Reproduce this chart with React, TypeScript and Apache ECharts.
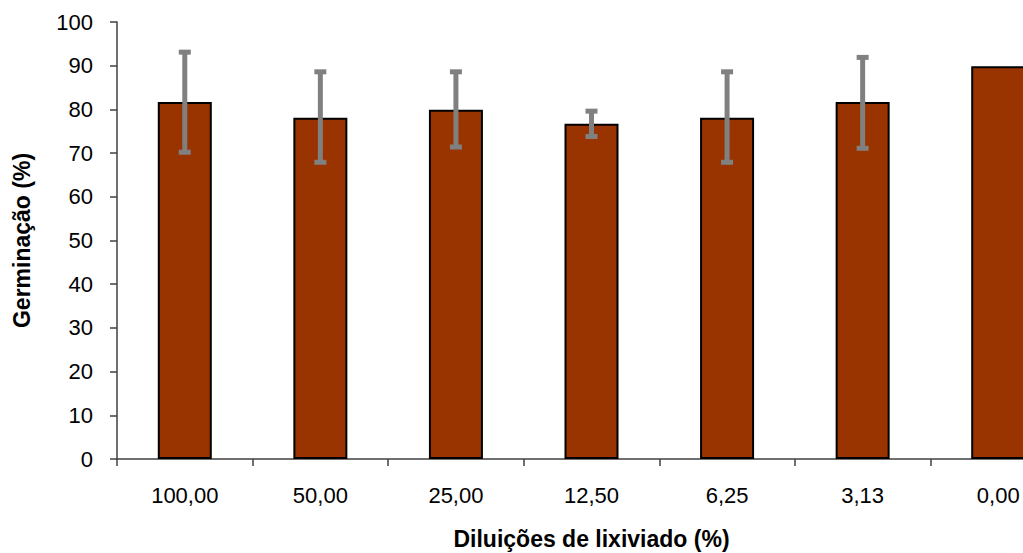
import React, { useEffect, useRef } from "react";
import * as echarts from "echarts";

const categories = ["100,00", "50,00", "25,00", "12,50", "6,25", "3,13", "0,00"];
const germination = [81.7, 78.1, 79.9, 76.7, 78.1, 81.7, 89.9];
const errLow = [70.2, 67.9, 71.4, 73.8, 67.9, 71.1, null];
const errHigh = [93.1, 88.6, 88.6, 79.6, 88.6, 91.9, null];
const yTicks = { min: 0, max: 100, interval: 10 };

export default function App() {
  const ref = useRef<HTMLDivElement>(null);
  useEffect(() => {
    if (!ref.current) return;
    const chart = echarts.init(ref.current, null, { renderer: "svg" });
    const errData: any[] = [];
    categories.forEach((_, i) => {
      if (errLow[i] != null && errHigh[i] != null) errData.push([i, errLow[i], errHigh[i]]);
    });
    const axisColor = "#404040";
    const font = "Liberation Sans, Arial";
    chart.setOption({
      animation: false,
      backgroundColor: "#ffffff",
      grid: { left: 117, top: 22, width: 949, height: 437, containLabel: false, outerBoundsMode: "none" },
      xAxis: {
        type: "category",
        data: categories,
        name: "Diluições de lixiviado (%)",
        nameLocation: "middle",
        nameGap: 67,
        nameTextStyle: { fontFamily: font, fontWeight: "bold", fontSize: 23, color: "#000", lineHeight: 26 },
        axisLine: { lineStyle: { color: axisColor, width: 1.5 } },
        axisTick: { show: true, interval: 0, alignWithLabel: false, length: 7, lineStyle: { color: axisColor, width: 1.5 } },
        axisLabel: { fontFamily: font, fontSize: 22, color: "#000", margin: 25, interval: 0 },
        splitLine: { show: false },
      },
      yAxis: {
        type: "value",
        min: yTicks.min,
        max: yTicks.max,
        interval: yTicks.interval,
        name: "Germinação (%)",
        nameLocation: "middle",
        nameGap: 84,
        nameTextStyle: { fontFamily: font, fontWeight: "bold", fontSize: 23, color: "#000" },
        axisLine: { show: true, lineStyle: { color: axisColor, width: 1.5 } },
        axisTick: { show: true, length: 7, lineStyle: { color: axisColor, width: 1.5 } },
        axisLabel: { fontFamily: font, fontSize: 22, color: "#000", margin: 24 },
        splitLine: { show: false },
      },
      series: [
        {
          type: "bar",
          data: germination,
          barWidth: 54,
          itemStyle: { color: "#993300", borderColor: "#000", borderWidth: 2 },
        },
        {
          type: "custom",
          data: errData,
          z: 10,
          renderItem: (params: any, api: any) => {
            const i = api.value(0);
            const lo = api.coord([i, api.value(1)]);
            const hi = api.coord([i, api.value(2)]);
            const x = lo[0];
            const capW = 6;
            const style = { stroke: "#808080", lineWidth: 5 };
            return {
              type: "group",
              children: [
                { type: "line", shape: { x1: x, y1: hi[1], x2: x, y2: lo[1] }, style },
                { type: "line", shape: { x1: x - capW, y1: hi[1], x2: x + capW, y2: hi[1] }, style },
                { type: "line", shape: { x1: x - capW, y1: lo[1], x2: x + capW, y2: lo[1] }, style },
              ],
            };
          },
        },
      ],
    });
    return () => chart.dispose();
  }, []);
  return <div ref={ref} style={{ position: "fixed", left: 0, top: 0, width: 1023, height: 553 }} />;
}
